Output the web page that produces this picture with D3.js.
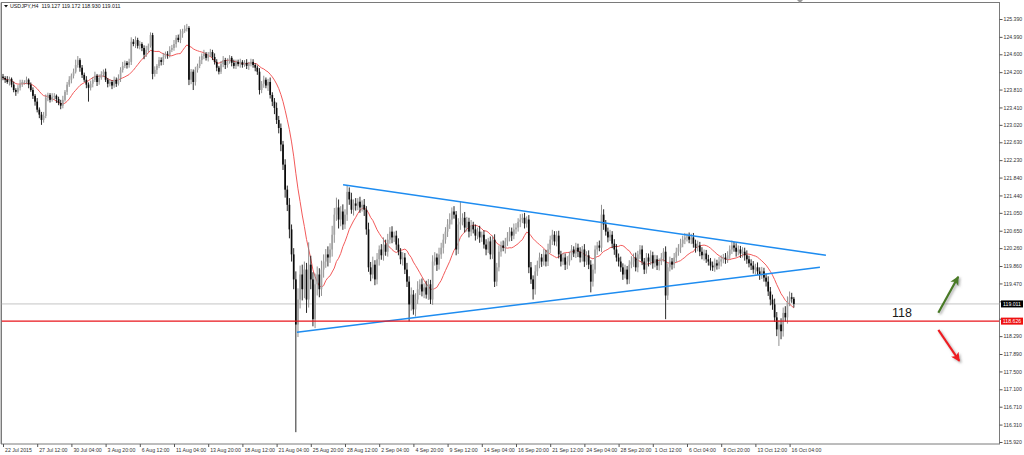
<!DOCTYPE html>
<html>
<head>
<meta charset="utf-8">
<title>USDJPY,H4</title>
<script src="https://cdn.jsdelivr.net/npm/d3@7"></script>
<style>
  body { margin: 0; background: #fff; }
  svg { display: block; font-family: "Liberation Sans", Arial, sans-serif; }
</style>
</head>
<body>
<script>
// ---- data ----
var symbolTitle = "USDJPY,H4  119.127 119.172 118.930 119.011";
var firstOpen = 124.10;

// H4 closes, one per bar
var closes = [
  124.07,124.03,123.98,124.05,123.92,123.80,123.76,123.85,123.94,123.98,
  123.98,124.03,123.92,123.80,123.67,123.54,123.36,123.25,123.13,123.22,
  123.63,123.69,123.58,123.65,123.67,123.60,123.51,123.45,123.58,123.76,
  123.92,124.03,124.12,124.21,124.36,124.47,124.30,124.14,124.03,123.92,
  123.85,123.94,124.03,124.12,123.98,124.07,124.16,124.21,124.03,123.94,
  123.98,123.90,124.03,123.94,124.07,124.25,124.34,124.41,124.36,124.43,
  124.88,124.83,124.92,124.79,124.83,124.74,124.59,124.70,124.79,125.03,
  124.16,124.25,124.34,124.47,124.43,124.54,124.61,124.59,124.70,124.74,
  124.83,124.97,124.92,125.06,125.12,125.17,125.19,124.03,124.21,123.98,
  124.25,124.34,124.47,124.56,124.61,124.52,124.59,124.65,124.54,124.43,
  124.30,124.21,124.38,124.47,124.36,124.43,124.52,124.41,124.34,124.43,
  124.38,124.43,124.36,124.41,124.34,124.38,124.43,124.36,124.30,124.21,
  123.80,123.94,124.03,123.90,123.98,123.69,123.54,123.40,123.13,122.95,
  122.58,122.13,121.57,121.23,120.68,120.12,119.56,118.55,119.11,119.67,
  119.34,119.78,119.11,119.89,119.56,118.67,119.45,119.67,119.34,119.78,
  119.96,120.12,120.05,120.23,120.56,121.01,121.17,120.90,121.08,120.79,
  121.01,121.52,121.35,121.12,121.26,121.21,121.30,121.17,121.23,121.12,
  120.68,119.83,119.67,119.89,119.56,120.01,120.23,120.10,120.34,120.18,
  120.45,120.63,120.50,120.54,120.34,120.18,120.01,120.05,119.78,119.51,
  119.00,119.22,118.89,119.11,119.34,119.45,119.29,119.38,119.22,119.45,
  119.11,119.96,120.05,119.89,120.12,120.27,120.45,120.63,120.79,120.90,
  121.08,121.01,120.23,120.79,120.85,120.94,120.72,120.85,120.63,120.77,
  120.68,120.54,120.63,120.50,120.56,120.34,120.23,120.41,120.12,120.45,
  119.51,119.83,120.18,120.32,120.27,120.41,120.50,120.63,120.54,120.68,
  120.72,120.85,120.90,120.94,120.81,120.90,119.83,119.56,119.34,119.74,
  119.89,120.05,119.96,120.12,119.96,120.23,120.45,120.56,120.41,120.54,
  120.12,119.96,120.05,119.89,119.96,120.10,120.23,120.14,120.27,120.18,
  120.05,120.23,119.96,120.10,119.89,119.51,119.78,120.23,120.32,120.27,
  121.01,120.79,120.63,120.50,120.56,120.36,120.23,120.05,119.96,119.83,
  119.67,119.78,119.56,119.89,119.96,120.05,119.83,120.12,120.23,119.96,
  119.78,120.05,119.96,120.10,119.92,120.01,119.87,119.96,120.05,120.18,
  119.20,119.83,119.96,119.89,120.05,120.18,120.27,120.36,120.45,120.50,
  120.52,120.45,120.50,120.36,120.27,120.32,120.18,120.10,120.14,120.01,
  119.96,119.87,119.83,119.92,119.87,119.96,120.01,120.05,120.01,120.10,
  120.23,120.32,120.27,120.18,120.23,120.14,120.18,120.10,120.01,119.92,
  119.87,119.78,119.83,119.74,119.67,119.74,119.60,119.51,119.29,119.11,
  119.00,118.71,118.44,118.55,118.40,118.81,118.71,119.07,119.16,119.127,
  119.011
];

// wick lengths above / below the body, in pips
var upperWick = [
  6,4,8,5,3,7,4,6,9,5,  4,7,3,5,6,4,8,5,6,9,  7,5,4,8,6,3,5,7,9,4,  6,8,5,7,12,9,4,6,5,8,
  5,7,6,9,4,8,6,5,7,4,  6,4,7,5,8,6,9,5,4,7,  10,6,8,5,7,4,6,9,5,6, 5,8,4,7,6,9,5,6,8,7,
  9,6,7,10,5,8,9,4,6,5, 7,5,8,6,9,4,6,7,5,8,  6,4,7,9,5,8,6,4,7,5,  5,7,4,6,8,5,7,6,4,5,
  8,6,9,5,7,10,6,8,12,9, 10,8,12,9,15,11,14,18,25,20, 22,18,15,50,20,16,24,18,14,20,
  16,12,18,14,20,15,22,18,12,16, 12,14,10,15,9,12,8,11,10,13, 8,15,12,18,10,14,9,12,16,11,
  13,10,12,9,11,14,8,12,10,15, 12,16,10,14,18,11,13,9,15,12, 10,14,12,9,15,11,13,10,12,14,
  9,12,8,14,45,10,13,11,9,12, 8,11,9,13,7,10,12,8,11,9, 12,10,14,9,11,8,12,10,9,13,
  10,8,12,9,11,7,10,12,9,14, 9,11,8,12,10,13,9,11,8,10, 11,8,10,9,12,8,10,7,11,9,
  10,8,12,9,11,10,13,9,8,11, 22,12,10,9,11,8,10,12,9,11, 9,11,8,10,12,9,11,8,10,9,
  8,10,9,11,8,10,9,7,10,8, 12,9,11,8,10,9,8,11,9,10, 7,9,8,10,9,11,8,10,9,8,
  10,8,9,11,8,10,9,8,10,9, 9,11,8,10,9,8,10,9,11,8, 9,10,8,11,9,10,8,9,12,10,
  11,13,12,10,14,12,15,11,13,10, 4
];
var lowerWick = [
  5,7,4,8,6,5,9,4,6,7,  6,5,8,4,7,9,6,8,11,6,  5,8,6,4,7,9,5,8,6,4,  7,5,8,6,4,6,9,7,5,8,
  31,6,8,5,9,6,4,7,5,8, 6,8,5,7,4,9,6,5,8,6,  7,5,9,6,8,7,10,5,6,4, 12,6,9,5,8,7,4,9,6,5,
  6,8,5,7,9,4,6,12,10,18, 8,6,5,9,7,6,8,5,7,6, 8,6,5,7,9,6,4,8,6,7, 5,8,6,4,7,9,5,6,8,7,
  10,7,9,6,12,8,10,14,9,12, 15,12,18,14,20,16,22,241,28,20, 25,20,30,18,22,16,20,25,18,15,
  18,14,20,12,16,18,14,20,15,12, 10,14,12,9,13,11,10,12,9,14, 12,10,15,9,13,11,14,10,12,9,
  11,9,13,10,12,8,11,14,10,12, 38,14,12,16,10,13,11,15,9,12, 10,12,9,14,11,10,13,9,12,10,
  11,9,13,10,12,8,11,9,13,10, 9,11,8,12,10,9,13,8,11,10, 12,10,9,11,8,13,10,9,12,8,
  10,9,12,8,11,9,13,10,23,12, 10,8,12,9,11,10,8,12,9,11, 9,11,8,12,10,9,11,8,10,12,
  11,9,12,8,10,24,11,9,12,8, 10,12,9,11,8,10,12,9,11,10, 12,9,11,10,8,12,9,11,10,8,
  10,9,11,8,12,9,10,11,8,9, 53,10,9,11,8,10,9,12,8,10, 9,8,10,9,11,8,10,9,12,8,
  9,11,8,10,9,8,11,9,10,8, 8,10,9,11,8,10,9,12,10,9, 10,9,11,8,12,10,9,11,10,13,
  12,10,15,37,18,12,10,14,11,9, 8
];

var maPeriod = 14;

var xTickLabels = ["22 Jul 2015", "27 Jul 12:00", "30 Jul 04:00", "3 Aug 20:00", "6 Aug 12:00",
  "11 Aug 04:00", "13 Aug 20:00", "18 Aug 12:00", "21 Aug 04:00", "25 Aug 20:00", "28 Aug 12:00",
  "2 Sep 04:00", "4 Sep 20:00", "9 Sep 12:00", "14 Sep 04:00", "16 Sep 20:00", "21 Sep 12:00",
  "24 Sep 04:00", "28 Sep 20:00", "1 Oct 12:00", "6 Oct 04:00", "8 Oct 20:00", "13 Oct 12:00",
  "16 Oct 04:00"];
var barsPerLabel = 16;

var yTickLabels = ["125.390", "124.990", "124.600", "124.200", "123.810", "123.410", "123.020",
  "122.630", "122.230", "121.840", "121.440", "121.050", "120.650", "120.260", "119.860",
  "119.470", "119.070", "118.680", "118.290", "117.890", "117.500", "117.100", "116.710",
  "116.310", "115.920"];

var supportLevel = 118.626;
var lastPrice = 119.011;

// hand drawn objects, as [bar index, price]
var upperTrend = [[159.1, 121.68], [385.0, 120.10]];
var lowerTrend = [[137.5, 118.375], [382.2, 119.83]];
var noteText = "118";
var notePoint = [420.6, 118.81];
var upArrow = [[437.6, 118.815], [446.9, 119.62]];
var downArrow = [[437.6, 118.43], [447.4, 117.734]];

// ---- chart ----
var svgConfig = {
  width: 1024,
  height: 455,
  frame: { left: 1.5, top: 2.5, right: 999.5, bottom: 444 }
};
var fr = svgConfig.frame;

var candles = closes.map(function(c, i) {
  var o = i === 0 ? firstOpen : closes[i - 1];
  return {
    i: i, o: o, c: c,
    h: Math.max(o, c) + upperWick[i] / 100,
    l: Math.min(o, c) - lowerWick[i] / 100
  };
});

var ma = closes.map(function(c, i) {
  var from = Math.max(0, i - maPeriod + 1);
  return { i: i, v: d3.mean(closes.slice(from, i + 1)) };
});

var xScale = d3.scaleLinear().domain([0, 466.3]).range([3, 999.7]);
var yVals = yTickLabels.map(Number);
var yScale = d3.scaleLinear().domain([d3.min(yVals), d3.max(yVals)]).range([442, 19]);

var svg = d3.select("body").append("svg")
  .attr("width", svgConfig.width)
  .attr("height", svgConfig.height);

var defs = svg.append("defs");
defs.append("clipPath").attr("id", "plotClip")
  .append("rect")
  .attr("x", fr.left).attr("y", fr.top)
  .attr("width", fr.right - fr.left).attr("height", fr.bottom - fr.top);

var shadow = defs.append("filter").attr("id", "shadow")
  .attr("x", "-50%").attr("y", "-50%").attr("width", "200%").attr("height", "200%");
shadow.append("feDropShadow")
  .attr("dx", 1.5).attr("dy", 1.5).attr("stdDeviation", 0.9)
  .attr("flood-color", "#777").attr("flood-opacity", 0.6);

function addHead(id, color) {
  defs.append("marker").attr("id", id)
    .attr("viewBox", "0 0 10 10")
    .attr("refX", 9).attr("refY", 5)
    .attr("markerUnits", "userSpaceOnUse")
    .attr("markerWidth", 10).attr("markerHeight", 9)
    .attr("orient", "auto")
    .append("path").attr("d", "M0,0 L10,5 L0,10 L2.5,5 z").attr("fill", color);
}
addHead("headGreen", "#4a7a25");
addHead("headRed", "#ee1d23");

// frame
svg.append("rect")
  .attr("x", fr.left).attr("y", fr.top)
  .attr("width", fr.right - fr.left).attr("height", fr.bottom - fr.top)
  .attr("fill", "#fff").attr("stroke", "#7a7a7a").attr("stroke-width", 1);
svg.append("line")
  .attr("x1", 0.5).attr("x2", 0.5).attr("y1", fr.top).attr("y2", fr.bottom)
  .attr("stroke", "#c8c8c8");

var plot = svg.append("g").attr("clip-path", "url(#plotClip)");

// last price line (behind bars)
plot.append("line")
  .attr("x1", fr.left).attr("x2", fr.right)
  .attr("y1", yScale(lastPrice)).attr("y2", yScale(lastPrice))
  .attr("stroke", "#c4c4c4").attr("stroke-width", 1);

// moving average
var maLine = d3.line()
  .x(function(d) { return xScale(d.i); })
  .y(function(d) { return yScale(d.v); });
plot.append("path")
  .attr("d", maLine(ma))
  .attr("fill", "none")
  .attr("stroke", "#f25a5a")
  .attr("stroke-width", 1);

// candles
var bodyW = 1.7;
plot.selectAll("line.wick").data(candles).join("line")
  .attr("class", "wick")
  .attr("x1", function(d) { return xScale(d.i); })
  .attr("x2", function(d) { return xScale(d.i); })
  .attr("y1", function(d) { return yScale(d.h); })
  .attr("y2", function(d) { return yScale(d.l); })
  .attr("stroke", function(d) { return d.c >= d.o ? "#858585" : "#111"; })
  .attr("stroke-width", 0.9);

plot.selectAll("rect.body").data(candles).join("rect")
  .attr("class", "body")
  .attr("x", function(d) { return xScale(d.i) - bodyW / 2; })
  .attr("width", bodyW)
  .attr("y", function(d) { return yScale(Math.max(d.o, d.c)); })
  .attr("height", function(d) { return Math.max(0.8, Math.abs(yScale(d.o) - yScale(d.c))); })
  .attr("fill", function(d) { return d.c >= d.o ? "#a2a2a2" : "#0a0a0a"; });

// trend lines
var trend = d3.line()
  .x(function(d) { return xScale(d[0]); })
  .y(function(d) { return yScale(d[1]); });
[upperTrend, lowerTrend].forEach(function(t) {
  plot.append("path")
    .attr("d", trend(t))
    .attr("fill", "none")
    .attr("stroke", "#1e8cf0")
    .attr("stroke-width", 1.5);
});

// support level
plot.append("line")
  .attr("x1", fr.left).attr("x2", fr.right)
  .attr("y1", yScale(supportLevel)).attr("y2", yScale(supportLevel))
  .attr("stroke", "#e8141b").attr("stroke-width", 1.3);

// note text and arrows
plot.append("text")
  .attr("x", xScale(notePoint[0]))
  .attr("y", yScale(notePoint[1]))
  .attr("text-anchor", "middle")
  .attr("dominant-baseline", "central")
  .attr("font-size", 12.5)
  .attr("fill", "#1a1a1a")
  .text(noteText);

plot.append("path")
  .attr("d", trend(upArrow))
  .attr("stroke", "#4a7a25").attr("stroke-width", 2.2).attr("fill", "none")
  .attr("marker-end", "url(#headGreen)")
  .attr("filter", "url(#shadow)");
plot.append("path")
  .attr("d", trend(downArrow))
  .attr("stroke", "#ee1d23").attr("stroke-width", 2.2).attr("fill", "none")
  .attr("marker-end", "url(#headRed)")
  .attr("filter", "url(#shadow)");

// right price axis; labels that sit under a price box are hidden, as in the terminal
var boxPrices = [lastPrice, supportLevel];
function underBox(v) {
  return boxPrices.some(function(p) { return Math.abs(yScale(p) - yScale(v)) < 6; });
}
var yAxis = d3.axisRight(yScale)
  .tickValues(yVals)
  .tickFormat(function(d, i) { return underBox(d) ? "" : yTickLabels[i]; })
  .tickSize(3)
  .tickPadding(1);
var gy = svg.append("g").attr("transform", "translate(" + fr.right + ",0)").call(yAxis);
gy.select(".domain").remove();
gy.selectAll("line").attr("stroke", "#555");
gy.selectAll("text").attr("font-size", 5.2).attr("fill", "#333")
  .attr("font-family", "Liberation Sans, Arial, sans-serif");

// bottom time axis
var xAxis = d3.axisBottom(xScale)
  .tickValues(xTickLabels.map(function(d, i) { return i * barsPerLabel; }))
  .tickFormat(function(d, i) { return xTickLabels[i]; })
  .tickSize(3)
  .tickPadding(1);
var gx = svg.append("g").attr("transform", "translate(0," + fr.bottom + ")").call(xAxis);
gx.select(".domain").remove();
gx.selectAll("line").attr("stroke", "#555");
gx.selectAll("text").attr("font-size", 5.2).attr("fill", "#333")
  .attr("text-anchor", "start").attr("x", 1.5)
  .attr("font-family", "Liberation Sans, Arial, sans-serif");

// price boxes on the axis
function priceBox(price, fill) {
  var y = yScale(price);
  svg.append("rect")
    .attr("x", fr.right + 1.5).attr("y", y - 3.5)
    .attr("width", 22).attr("height", 7)
    .attr("fill", fill);
  svg.append("text")
    .attr("x", fr.right + 12.5).attr("y", y)
    .attr("text-anchor", "middle").attr("dominant-baseline", "central")
    .attr("font-size", 5.2).attr("fill", "#fff")
    .text(price.toFixed(3));
}
priceBox(lastPrice, "#000");
priceBox(supportLevel, "#ee1111");

// title
svg.append("path").attr("d", "M4,5 L8,5 L6,7.5 z").attr("fill", "#111");
svg.append("text")
  .attr("x", 10).attr("y", 8)
  .attr("font-size", 5.3).attr("fill", "#111")
  .attr("xml:space", "preserve")
  .text(symbolTitle);

// chart shift marker at the top
svg.append("path").attr("d", "M797,0 L803,0 L800,3 z").attr("fill", "#999");
</script>
</body>
</html>
